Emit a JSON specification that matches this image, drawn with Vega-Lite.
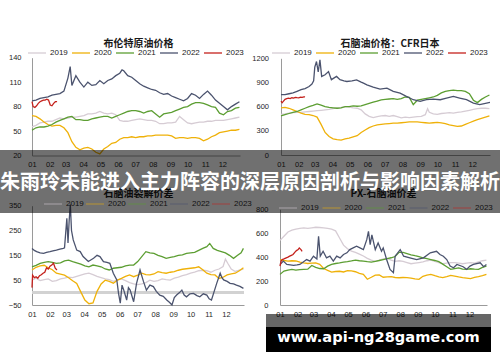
{
"$schema":"https://vega.github.io/schema/vega-lite/v6.json",
"width":500,"height":362,"autosize":{"type":"none"},"padding":0,"background":"white",
"config":{"view":{"stroke":null},
"axis":{"grid":false,"ticks":false,"domainColor":"#9a9a9a","domainWidth":1,"labelFont":"Liberation Sans","labelFontSize":7.5,"labelColor":"#262626","titleFont":"Noto Sans CJK SC","titleFontSize":10,"titleFontWeight":"bold","titleColor":"#1a1a1a"},
"legend":{"title":null,"orient":"none","direction":"horizontal","symbolType":"stroke","symbolSize":324,"symbolStrokeWidth":2,"labelFont":"Liberation Sans","labelFontSize":8,"labelColor":"#222","labelOffset":3,"columnPadding":1,"padding":0}},
"datasets":{
"tl":[
{"d":0,"y":2019,"v":55},{"d":7,"y":2019,"v":57},{"d":14,"y":2019,"v":60},{"d":21,"y":2019,"v":61},{"d":28,"y":2019,"v":62},{"d":35,"y":2019,"v":62},{"d":42,"y":2019,"v":64},{"d":49,"y":2019,"v":66},{"d":56,"y":2019,"v":65},{"d":63,"y":2019,"v":66},{"d":70,"y":2019,"v":67},{"d":77,"y":2019,"v":67},{"d":84,"y":2019,"v":68},{"d":91,"y":2019,"v":69},{"d":98,"y":2019,"v":71},{"d":105,"y":2019,"v":71},{"d":112,"y":2019,"v":72},{"d":119,"y":2019,"v":74},{"d":126,"y":2019,"v":72},{"d":133,"y":2019,"v":71},{"d":140,"y":2019,"v":72},{"d":147,"y":2019,"v":70},{"d":154,"y":2019,"v":63},{"d":161,"y":2019,"v":62},{"d":168,"y":2019,"v":62},{"d":175,"y":2019,"v":63},{"d":182,"y":2019,"v":64},{"d":189,"y":2019,"v":65},{"d":196,"y":2019,"v":64},{"d":203,"y":2019,"v":63},{"d":210,"y":2019,"v":63},{"d":217,"y":2019,"v":62},{"d":224,"y":2019,"v":59},{"d":231,"y":2019,"v":59},{"d":238,"y":2019,"v":60},{"d":245,"y":2019,"v":60},{"d":252,"y":2019,"v":61},{"d":259,"y":2019,"v":68},{"d":266,"y":2019,"v":64},{"d":273,"y":2019,"v":60},{"d":280,"y":2019,"v":59},{"d":287,"y":2019,"v":60},{"d":294,"y":2019,"v":61},{"d":301,"y":2019,"v":61},{"d":308,"y":2019,"v":62},{"d":315,"y":2019,"v":62},{"d":322,"y":2019,"v":63},{"d":329,"y":2019,"v":63},{"d":336,"y":2019,"v":63},{"d":343,"y":2019,"v":64},{"d":350,"y":2019,"v":65},{"d":357,"y":2019,"v":66},{"d":364,"y":2019,"v":67},
{"d":0,"y":2020,"v":69},{"d":7,"y":2020,"v":68},{"d":14,"y":2020,"v":65},{"d":21,"y":2020,"v":61},{"d":28,"y":2020,"v":58},{"d":35,"y":2020,"v":56},{"d":42,"y":2020,"v":57},{"d":49,"y":2020,"v":57},{"d":56,"y":2020,"v":54},{"d":63,"y":2020,"v":48},{"d":70,"y":2020,"v":37},{"d":77,"y":2020,"v":30},{"d":84,"y":2020,"v":27},{"d":91,"y":2020,"v":29},{"d":98,"y":2020,"v":30},{"d":105,"y":2020,"v":28},{"d":112,"y":2020,"v":24},{"d":119,"y":2020,"v":22},{"d":126,"y":2020,"v":28},{"d":133,"y":2020,"v":31},{"d":140,"y":2020,"v":35},{"d":147,"y":2020,"v":36},{"d":154,"y":2020,"v":40},{"d":161,"y":2020,"v":42},{"d":168,"y":2020,"v":42},{"d":175,"y":2020,"v":43},{"d":182,"y":2020,"v":42},{"d":189,"y":2020,"v":43},{"d":196,"y":2020,"v":43},{"d":203,"y":2020,"v":44},{"d":210,"y":2020,"v":44},{"d":217,"y":2020,"v":45},{"d":224,"y":2020,"v":45},{"d":231,"y":2020,"v":45},{"d":238,"y":2020,"v":45},{"d":245,"y":2020,"v":44},{"d":252,"y":2020,"v":41},{"d":259,"y":2020,"v":42},{"d":266,"y":2020,"v":42},{"d":273,"y":2020,"v":41},{"d":280,"y":2020,"v":42},{"d":287,"y":2020,"v":42},{"d":294,"y":2020,"v":41},{"d":301,"y":2020,"v":38},{"d":308,"y":2020,"v":40},{"d":315,"y":2020,"v":43},{"d":322,"y":2020,"v":45},{"d":329,"y":2020,"v":48},{"d":336,"y":2020,"v":49},{"d":343,"y":2020,"v":50},{"d":350,"y":2020,"v":51},{"d":357,"y":2020,"v":51},{"d":364,"y":2020,"v":52},
{"d":0,"y":2021,"v":51},{"d":7,"y":2021,"v":54},{"d":14,"y":2021,"v":55},{"d":21,"y":2021,"v":55},{"d":28,"y":2021,"v":56},{"d":35,"y":2021,"v":58},{"d":42,"y":2021,"v":61},{"d":49,"y":2021,"v":63},{"d":56,"y":2021,"v":65},{"d":63,"y":2021,"v":67},{"d":70,"y":2021,"v":68},{"d":77,"y":2021,"v":64},{"d":84,"y":2021,"v":64},{"d":91,"y":2021,"v":63},{"d":98,"y":2021,"v":63},{"d":105,"y":2021,"v":65},{"d":112,"y":2021,"v":66},{"d":119,"y":2021,"v":67},{"d":126,"y":2021,"v":68},{"d":133,"y":2021,"v":68},{"d":140,"y":2021,"v":66},{"d":147,"y":2021,"v":68},{"d":154,"y":2021,"v":70},{"d":161,"y":2021,"v":72},{"d":168,"y":2021,"v":74},{"d":175,"y":2021,"v":75},{"d":182,"y":2021,"v":75},{"d":189,"y":2021,"v":74},{"d":196,"y":2021,"v":72},{"d":203,"y":2021,"v":74},{"d":210,"y":2021,"v":75},{"d":217,"y":2021,"v":71},{"d":224,"y":2021,"v":67},{"d":231,"y":2021,"v":71},{"d":238,"y":2021,"v":72},{"d":245,"y":2021,"v":73},{"d":252,"y":2021,"v":75},{"d":259,"y":2021,"v":77},{"d":266,"y":2021,"v":79},{"d":273,"y":2021,"v":80},{"d":280,"y":2021,"v":83},{"d":287,"y":2021,"v":85},{"d":294,"y":2021,"v":85},{"d":301,"y":2021,"v":84},{"d":308,"y":2021,"v":82},{"d":315,"y":2021,"v":80},{"d":322,"y":2021,"v":79},{"d":329,"y":2021,"v":72},{"d":336,"y":2021,"v":70},{"d":343,"y":2021,"v":74},{"d":350,"y":2021,"v":75},{"d":357,"y":2021,"v":78},{"d":364,"y":2021,"v":79},
{"d":0,"y":2022,"v":87},{"d":7,"y":2022,"v":88},{"d":14,"y":2022,"v":90},{"d":21,"y":2022,"v":91},{"d":28,"y":2022,"v":92},{"d":35,"y":2022,"v":94},{"d":42,"y":2022,"v":95},{"d":49,"y":2022,"v":96},{"d":56,"y":2022,"v":99},{"d":63,"y":2022,"v":115},{"d":67,"y":2022,"v":129},{"d":70,"y":2022,"v":106},{"d":77,"y":2022,"v":118},{"d":84,"y":2022,"v":110},{"d":91,"y":2022,"v":104},{"d":98,"y":2022,"v":110},{"d":105,"y":2022,"v":106},{"d":112,"y":2022,"v":107},{"d":119,"y":2022,"v":112},{"d":126,"y":2022,"v":108},{"d":133,"y":2022,"v":112},{"d":140,"y":2022,"v":114},{"d":147,"y":2022,"v":118},{"d":154,"y":2022,"v":121},{"d":158,"y":2022,"v":125},{"d":161,"y":2022,"v":124},{"d":168,"y":2022,"v":118},{"d":175,"y":2022,"v":116},{"d":182,"y":2022,"v":112},{"d":189,"y":2022,"v":108},{"d":196,"y":2022,"v":105},{"d":203,"y":2022,"v":103},{"d":210,"y":2022,"v":101},{"d":217,"y":2022,"v":100},{"d":224,"y":2022,"v":97},{"d":231,"y":2022,"v":95},{"d":238,"y":2022,"v":96},{"d":245,"y":2022,"v":93},{"d":252,"y":2022,"v":91},{"d":259,"y":2022,"v":89},{"d":266,"y":2022,"v":87},{"d":273,"y":2022,"v":90},{"d":280,"y":2022,"v":96},{"d":287,"y":2022,"v":94},{"d":294,"y":2022,"v":90},{"d":301,"y":2022,"v":95},{"d":308,"y":2022,"v":99},{"d":315,"y":2022,"v":94},{"d":322,"y":2022,"v":88},{"d":329,"y":2022,"v":84},{"d":336,"y":2022,"v":80},{"d":343,"y":2022,"v":76},{"d":350,"y":2022,"v":80},{"d":357,"y":2022,"v":83},{"d":364,"y":2022,"v":86},
{"d":0,"y":2023,"v":86},{"d":2,"y":2023,"v":80},{"d":5,"y":2023,"v":79},{"d":8,"y":2023,"v":81},{"d":11,"y":2023,"v":84},{"d":14,"y":2023,"v":86},{"d":17,"y":2023,"v":87},{"d":20,"y":2023,"v":88},{"d":23,"y":2023,"v":88},{"d":26,"y":2023,"v":89},{"d":29,"y":2023,"v":88},{"d":32,"y":2023,"v":82},{"d":35,"y":2023,"v":81},{"d":38,"y":2023,"v":84},{"d":41,"y":2023,"v":86},{"d":44,"y":2023,"v":86}
],
"tr":[
{"d":0,"y":2019,"v":505},{"d":7,"y":2019,"v":510},{"d":14,"y":2019,"v":520},{"d":21,"y":2019,"v":525},{"d":28,"y":2019,"v":530},{"d":35,"y":2019,"v":530},{"d":42,"y":2019,"v":535},{"d":49,"y":2019,"v":540},{"d":56,"y":2019,"v":545},{"d":63,"y":2019,"v":550},{"d":70,"y":2019,"v":555},{"d":77,"y":2019,"v":560},{"d":84,"y":2019,"v":565},{"d":91,"y":2019,"v":575},{"d":98,"y":2019,"v":585},{"d":105,"y":2019,"v":590},{"d":112,"y":2019,"v":600},{"d":119,"y":2019,"v":595},{"d":126,"y":2019,"v":585},{"d":133,"y":2019,"v":580},{"d":140,"y":2019,"v":560},{"d":147,"y":2019,"v":510},{"d":154,"y":2019,"v":480},{"d":161,"y":2019,"v":465},{"d":168,"y":2019,"v":475},{"d":175,"y":2019,"v":485},{"d":182,"y":2019,"v":490},{"d":189,"y":2019,"v":480},{"d":196,"y":2019,"v":490},{"d":203,"y":2019,"v":475},{"d":210,"y":2019,"v":460},{"d":217,"y":2019,"v":470},{"d":224,"y":2019,"v":465},{"d":231,"y":2019,"v":470},{"d":238,"y":2019,"v":475},{"d":245,"y":2019,"v":480},{"d":252,"y":2019,"v":500},{"d":256,"y":2019,"v":575},{"d":259,"y":2019,"v":530},{"d":266,"y":2019,"v":510},{"d":273,"y":2019,"v":505},{"d":280,"y":2019,"v":515},{"d":287,"y":2019,"v":520},{"d":294,"y":2019,"v":525},{"d":301,"y":2019,"v":520},{"d":308,"y":2019,"v":530},{"d":315,"y":2019,"v":535},{"d":322,"y":2019,"v":545},{"d":329,"y":2019,"v":555},{"d":336,"y":2019,"v":565},{"d":343,"y":2019,"v":575},{"d":350,"y":2019,"v":580},{"d":357,"y":2019,"v":580},{"d":364,"y":2019,"v":575},
{"d":0,"y":2020,"v":585},{"d":7,"y":2020,"v":590},{"d":14,"y":2020,"v":580},{"d":21,"y":2020,"v":560},{"d":28,"y":2020,"v":540},{"d":35,"y":2020,"v":520},{"d":42,"y":2020,"v":505},{"d":49,"y":2020,"v":500},{"d":56,"y":2020,"v":490},{"d":63,"y":2020,"v":470},{"d":70,"y":2020,"v":380},{"d":77,"y":2020,"v":280},{"d":84,"y":2020,"v":230},{"d":91,"y":2020,"v":200},{"d":98,"y":2020,"v":190},{"d":105,"y":2020,"v":185},{"d":112,"y":2020,"v":200},{"d":119,"y":2020,"v":210},{"d":126,"y":2020,"v":225},{"d":133,"y":2020,"v":240},{"d":140,"y":2020,"v":280},{"d":147,"y":2020,"v":310},{"d":154,"y":2020,"v":340},{"d":161,"y":2020,"v":360},{"d":168,"y":2020,"v":375},{"d":175,"y":2020,"v":380},{"d":182,"y":2020,"v":385},{"d":189,"y":2020,"v":390},{"d":196,"y":2020,"v":395},{"d":203,"y":2020,"v":395},{"d":210,"y":2020,"v":400},{"d":217,"y":2020,"v":405},{"d":224,"y":2020,"v":410},{"d":231,"y":2020,"v":412},{"d":238,"y":2020,"v":410},{"d":245,"y":2020,"v":405},{"d":252,"y":2020,"v":400},{"d":259,"y":2020,"v":395},{"d":266,"y":2020,"v":400},{"d":273,"y":2020,"v":405},{"d":280,"y":2020,"v":398},{"d":287,"y":2020,"v":390},{"d":294,"y":2020,"v":375},{"d":301,"y":2020,"v":365},{"d":308,"y":2020,"v":355},{"d":315,"y":2020,"v":360},{"d":322,"y":2020,"v":380},{"d":329,"y":2020,"v":400},{"d":336,"y":2020,"v":420},{"d":343,"y":2020,"v":440},{"d":350,"y":2020,"v":455},{"d":357,"y":2020,"v":470},{"d":364,"y":2020,"v":485},
{"d":0,"y":2021,"v":485},{"d":7,"y":2021,"v":500},{"d":14,"y":2021,"v":515},{"d":21,"y":2021,"v":530},{"d":28,"y":2021,"v":540},{"d":35,"y":2021,"v":560},{"d":42,"y":2021,"v":580},{"d":49,"y":2021,"v":600},{"d":56,"y":2021,"v":615},{"d":63,"y":2021,"v":635},{"d":70,"y":2021,"v":620},{"d":77,"y":2021,"v":600},{"d":84,"y":2021,"v":590},{"d":91,"y":2021,"v":585},{"d":98,"y":2021,"v":580},{"d":105,"y":2021,"v":585},{"d":112,"y":2021,"v":600},{"d":119,"y":2021,"v":600},{"d":126,"y":2021,"v":610},{"d":133,"y":2021,"v":605},{"d":140,"y":2021,"v":610},{"d":147,"y":2021,"v":625},{"d":154,"y":2021,"v":640},{"d":161,"y":2021,"v":655},{"d":168,"y":2021,"v":670},{"d":175,"y":2021,"v":685},{"d":182,"y":2021,"v":690},{"d":189,"y":2021,"v":695},{"d":196,"y":2021,"v":700},{"d":203,"y":2021,"v":690},{"d":210,"y":2021,"v":700},{"d":217,"y":2021,"v":720},{"d":224,"y":2021,"v":715},{"d":231,"y":2021,"v":625},{"d":238,"y":2021,"v":680},{"d":245,"y":2021,"v":690},{"d":252,"y":2021,"v":700},{"d":259,"y":2021,"v":710},{"d":266,"y":2021,"v":720},{"d":273,"y":2021,"v":740},{"d":280,"y":2021,"v":770},{"d":287,"y":2021,"v":790},{"d":294,"y":2021,"v":800},{"d":301,"y":2021,"v":805},{"d":308,"y":2021,"v":800},{"d":315,"y":2021,"v":800},{"d":322,"y":2021,"v":790},{"d":329,"y":2021,"v":760},{"d":336,"y":2021,"v":680},{"d":343,"y":2021,"v":650},{"d":350,"y":2021,"v":690},{"d":357,"y":2021,"v":720},{"d":364,"y":2021,"v":745},
{"d":0,"y":2022,"v":748},{"d":7,"y":2022,"v":750},{"d":14,"y":2022,"v":760},{"d":21,"y":2022,"v":770},{"d":28,"y":2022,"v":790},{"d":35,"y":2022,"v":810},{"d":42,"y":2022,"v":825},{"d":49,"y":2022,"v":850},{"d":54,"y":2022,"v":880},{"d":57,"y":2022,"v":920},{"d":59,"y":2022,"v":1090},{"d":62,"y":2022,"v":1160},{"d":65,"y":2022,"v":1030},{"d":68,"y":2022,"v":1180},{"d":71,"y":2022,"v":975},{"d":77,"y":2022,"v":995},{"d":83,"y":2022,"v":1035},{"d":88,"y":2022,"v":935},{"d":97,"y":2022,"v":975},{"d":103,"y":2022,"v":935},{"d":110,"y":2022,"v":920},{"d":115,"y":2022,"v":912},{"d":124,"y":2022,"v":920},{"d":132,"y":2022,"v":933},{"d":140,"y":2022,"v":905},{"d":144,"y":2022,"v":892},{"d":150,"y":2022,"v":871},{"d":161,"y":2022,"v":842},{"d":173,"y":2022,"v":818},{"d":185,"y":2022,"v":830},{"d":196,"y":2022,"v":789},{"d":208,"y":2022,"v":768},{"d":219,"y":2022,"v":727},{"d":231,"y":2022,"v":686},{"d":243,"y":2022,"v":666},{"d":254,"y":2022,"v":686},{"d":266,"y":2022,"v":694},{"d":278,"y":2022,"v":686},{"d":289,"y":2022,"v":707},{"d":301,"y":2022,"v":727},{"d":312,"y":2022,"v":707},{"d":324,"y":2022,"v":686},{"d":336,"y":2022,"v":645},{"d":347,"y":2022,"v":625},{"d":359,"y":2022,"v":645},{"d":365,"y":2022,"v":653},
{"d":0,"y":2023,"v":670},{"d":2,"y":2023,"v":650},{"d":4,"y":2023,"v":665},{"d":7,"y":2023,"v":690},{"d":10,"y":2023,"v":700},{"d":13,"y":2023,"v":705},{"d":16,"y":2023,"v":700},{"d":19,"y":2023,"v":710},{"d":22,"y":2023,"v":705},{"d":25,"y":2023,"v":715},{"d":28,"y":2023,"v":712},{"d":31,"y":2023,"v":710},{"d":34,"y":2023,"v":718},{"d":37,"y":2023,"v":715},{"d":40,"y":2023,"v":722},{"d":42,"y":2023,"v":720}
],
"bl":[
{"d":0,"y":2019,"v":50},{"d":7,"y":2019,"v":58},{"d":14,"y":2019,"v":48},{"d":21,"y":2019,"v":52},{"d":28,"y":2019,"v":55},{"d":35,"y":2019,"v":45},{"d":42,"y":2019,"v":48},{"d":49,"y":2019,"v":55},{"d":56,"y":2019,"v":58},{"d":63,"y":2019,"v":62},{"d":70,"y":2019,"v":60},{"d":77,"y":2019,"v":65},{"d":84,"y":2019,"v":70},{"d":91,"y":2019,"v":75},{"d":98,"y":2019,"v":78},{"d":105,"y":2019,"v":72},{"d":112,"y":2019,"v":65},{"d":119,"y":2019,"v":60},{"d":126,"y":2019,"v":55},{"d":133,"y":2019,"v":52},{"d":140,"y":2019,"v":45},{"d":147,"y":2019,"v":50},{"d":154,"y":2019,"v":55},{"d":161,"y":2019,"v":48},{"d":168,"y":2019,"v":40},{"d":175,"y":2019,"v":35},{"d":182,"y":2019,"v":32},{"d":189,"y":2019,"v":35},{"d":196,"y":2019,"v":40},{"d":203,"y":2019,"v":50},{"d":210,"y":2019,"v":45},{"d":217,"y":2019,"v":48},{"d":224,"y":2019,"v":55},{"d":231,"y":2019,"v":52},{"d":238,"y":2019,"v":50},{"d":245,"y":2019,"v":58},{"d":252,"y":2019,"v":62},{"d":259,"y":2019,"v":68},{"d":266,"y":2019,"v":72},{"d":273,"y":2019,"v":78},{"d":280,"y":2019,"v":82},{"d":287,"y":2019,"v":88},{"d":294,"y":2019,"v":90},{"d":301,"y":2019,"v":88},{"d":308,"y":2019,"v":82},{"d":315,"y":2019,"v":90},{"d":322,"y":2019,"v":95},{"d":329,"y":2019,"v":105},{"d":333,"y":2019,"v":135},{"d":337,"y":2019,"v":118},{"d":343,"y":2019,"v":95},{"d":350,"y":2019,"v":85},{"d":357,"y":2019,"v":90},{"d":364,"y":2019,"v":95},
{"d":0,"y":2020,"v":91},{"d":7,"y":2020,"v":102},{"d":14,"y":2020,"v":108},{"d":21,"y":2020,"v":110},{"d":28,"y":2020,"v":100},{"d":35,"y":2020,"v":92},{"d":42,"y":2020,"v":78},{"d":49,"y":2020,"v":74},{"d":56,"y":2020,"v":70},{"d":63,"y":2020,"v":60},{"d":70,"y":2020,"v":48},{"d":77,"y":2020,"v":37},{"d":84,"y":2020,"v":3},{"d":91,"y":2020,"v":-30},{"d":98,"y":2020,"v":-45},{"d":105,"y":2020,"v":-42},{"d":112,"y":2020,"v":5},{"d":119,"y":2020,"v":35},{"d":126,"y":2020,"v":50},{"d":133,"y":2020,"v":45},{"d":140,"y":2020,"v":38},{"d":147,"y":2020,"v":50},{"d":154,"y":2020,"v":57},{"d":161,"y":2020,"v":65},{"d":168,"y":2020,"v":71},{"d":175,"y":2020,"v":64},{"d":182,"y":2020,"v":70},{"d":189,"y":2020,"v":78},{"d":196,"y":2020,"v":72},{"d":203,"y":2020,"v":71},{"d":210,"y":2020,"v":75},{"d":217,"y":2020,"v":84},{"d":224,"y":2020,"v":80},{"d":231,"y":2020,"v":78},{"d":238,"y":2020,"v":82},{"d":245,"y":2020,"v":84},{"d":252,"y":2020,"v":90},{"d":259,"y":2020,"v":94},{"d":266,"y":2020,"v":96},{"d":273,"y":2020,"v":98},{"d":280,"y":2020,"v":100},{"d":287,"y":2020,"v":104},{"d":294,"y":2020,"v":92},{"d":301,"y":2020,"v":78},{"d":308,"y":2020,"v":72},{"d":315,"y":2020,"v":71},{"d":322,"y":2020,"v":57},{"d":329,"y":2020,"v":62},{"d":336,"y":2020,"v":71},{"d":343,"y":2020,"v":75},{"d":350,"y":2020,"v":78},{"d":357,"y":2020,"v":88},{"d":364,"y":2020,"v":100},
{"d":0,"y":2021,"v":104},{"d":7,"y":2021,"v":110},{"d":14,"y":2021,"v":118},{"d":21,"y":2021,"v":122},{"d":28,"y":2021,"v":125},{"d":35,"y":2021,"v":122},{"d":42,"y":2021,"v":118},{"d":49,"y":2021,"v":120},{"d":56,"y":2021,"v":128},{"d":63,"y":2021,"v":131},{"d":70,"y":2021,"v":125},{"d":77,"y":2021,"v":120},{"d":84,"y":2021,"v":115},{"d":91,"y":2021,"v":108},{"d":98,"y":2021,"v":104},{"d":105,"y":2021,"v":111},{"d":112,"y":2021,"v":108},{"d":119,"y":2021,"v":104},{"d":126,"y":2021,"v":95},{"d":133,"y":2021,"v":91},{"d":140,"y":2021,"v":98},{"d":147,"y":2021,"v":100},{"d":154,"y":2021,"v":102},{"d":161,"y":2021,"v":108},{"d":168,"y":2021,"v":111},{"d":175,"y":2021,"v":111},{"d":182,"y":2021,"v":125},{"d":189,"y":2021,"v":145},{"d":196,"y":2021,"v":165},{"d":203,"y":2021,"v":160},{"d":210,"y":2021,"v":158},{"d":217,"y":2021,"v":150},{"d":224,"y":2021,"v":145},{"d":231,"y":2021,"v":138},{"d":238,"y":2021,"v":142},{"d":245,"y":2021,"v":145},{"d":252,"y":2021,"v":150},{"d":259,"y":2021,"v":152},{"d":266,"y":2021,"v":158},{"d":273,"y":2021,"v":160},{"d":280,"y":2021,"v":162},{"d":287,"y":2021,"v":170},{"d":294,"y":2021,"v":178},{"d":301,"y":2021,"v":185},{"d":306,"y":2021,"v":198},{"d":312,"y":2021,"v":178},{"d":319,"y":2021,"v":170},{"d":326,"y":2021,"v":165},{"d":333,"y":2021,"v":160},{"d":340,"y":2021,"v":150},{"d":347,"y":2021,"v":138},{"d":354,"y":2021,"v":150},{"d":360,"y":2021,"v":160},{"d":364,"y":2021,"v":178},
{"d":0,"y":2022,"v":178},{"d":4,"y":2022,"v":170},{"d":8,"y":2022,"v":165},{"d":14,"y":2022,"v":160},{"d":20,"y":2022,"v":158},{"d":25,"y":2022,"v":162},{"d":31,"y":2022,"v":165},{"d":36,"y":2022,"v":168},{"d":42,"y":2022,"v":171},{"d":48,"y":2022,"v":175},{"d":54,"y":2022,"v":178},{"d":56,"y":2022,"v":180},{"d":58,"y":2022,"v":240},{"d":60,"y":2022,"v":299},{"d":62,"y":2022,"v":200},{"d":64,"y":2022,"v":290},{"d":66,"y":2022,"v":355},{"d":68,"y":2022,"v":250},{"d":71,"y":2022,"v":212},{"d":77,"y":2022,"v":171},{"d":83,"y":2022,"v":165},{"d":88,"y":2022,"v":145},{"d":97,"y":2022,"v":125},{"d":106,"y":2022,"v":138},{"d":112,"y":2022,"v":150},{"d":117,"y":2022,"v":145},{"d":123,"y":2022,"v":125},{"d":129,"y":2022,"v":122},{"d":134,"y":2022,"v":118},{"d":140,"y":2022,"v":78},{"d":146,"y":2022,"v":51},{"d":149,"y":2022,"v":-3},{"d":152,"y":2022,"v":-43},{"d":155,"y":2022,"v":30},{"d":158,"y":2022,"v":10},{"d":163,"y":2022,"v":-30},{"d":166,"y":2022,"v":20},{"d":169,"y":2022,"v":10},{"d":175,"y":2022,"v":-37},{"d":180,"y":2022,"v":37},{"d":186,"y":2022,"v":91},{"d":192,"y":2022,"v":44},{"d":197,"y":2022,"v":10},{"d":203,"y":2022,"v":30},{"d":209,"y":2022,"v":24},{"d":214,"y":2022,"v":5},{"d":220,"y":2022,"v":-10},{"d":226,"y":2022,"v":-15},{"d":232,"y":2022,"v":-30},{"d":237,"y":2022,"v":-40},{"d":241,"y":2022,"v":-50},{"d":245,"y":2022,"v":-20},{"d":249,"y":2022,"v":-10},{"d":254,"y":2022,"v":0},{"d":258,"y":2022,"v":10},{"d":262,"y":2022,"v":-10},{"d":266,"y":2022,"v":-17},{"d":272,"y":2022,"v":-5},{"d":278,"y":2022,"v":-3},{"d":284,"y":2022,"v":-12},{"d":289,"y":2022,"v":-17},{"d":295,"y":2022,"v":-5},{"d":301,"y":2022,"v":-10},{"d":305,"y":2022,"v":-25},{"d":309,"y":2022,"v":-30},{"d":313,"y":2022,"v":0},{"d":318,"y":2022,"v":37},{"d":324,"y":2022,"v":78},{"d":327,"y":2022,"v":60},{"d":330,"y":2022,"v":51},{"d":336,"y":2022,"v":45},{"d":341,"y":2022,"v":37},{"d":347,"y":2022,"v":35},{"d":352,"y":2022,"v":30},{"d":358,"y":2022,"v":25},{"d":364,"y":2022,"v":17},
{"d":0,"y":2023,"v":20},{"d":1,"y":2023,"v":70},{"d":4,"y":2023,"v":60},{"d":7,"y":2023,"v":64},{"d":10,"y":2023,"v":58},{"d":13,"y":2023,"v":68},{"d":16,"y":2023,"v":72},{"d":19,"y":2023,"v":78},{"d":22,"y":2023,"v":82},{"d":25,"y":2023,"v":100},{"d":28,"y":2023,"v":95},{"d":31,"y":2023,"v":106},{"d":34,"y":2023,"v":111},{"d":37,"y":2023,"v":118},{"d":40,"y":2023,"v":98},{"d":43,"y":2023,"v":91}
],
"br":[
{"d":0,"y":2019,"v":540},{"d":7,"y":2019,"v":575},{"d":14,"y":2019,"v":610},{"d":21,"y":2019,"v":625},{"d":28,"y":2019,"v":635},{"d":35,"y":2019,"v":640},{"d":42,"y":2019,"v":645},{"d":49,"y":2019,"v":640},{"d":56,"y":2019,"v":645},{"d":63,"y":2019,"v":650},{"d":70,"y":2019,"v":648},{"d":77,"y":2019,"v":645},{"d":84,"y":2019,"v":640},{"d":91,"y":2019,"v":635},{"d":98,"y":2019,"v":620},{"d":105,"y":2019,"v":560},{"d":112,"y":2019,"v":500},{"d":119,"y":2019,"v":470},{"d":126,"y":2019,"v":450},{"d":133,"y":2019,"v":440},{"d":140,"y":2019,"v":425},{"d":147,"y":2019,"v":410},{"d":154,"y":2019,"v":390},{"d":161,"y":2019,"v":375},{"d":168,"y":2019,"v":365},{"d":175,"y":2019,"v":375},{"d":182,"y":2019,"v":385},{"d":189,"y":2019,"v":390},{"d":196,"y":2019,"v":375},{"d":203,"y":2019,"v":365},{"d":210,"y":2019,"v":370},{"d":217,"y":2019,"v":365},{"d":224,"y":2019,"v":355},{"d":231,"y":2019,"v":345},{"d":238,"y":2019,"v":350},{"d":245,"y":2019,"v":355},{"d":252,"y":2019,"v":360},{"d":259,"y":2019,"v":370},{"d":266,"y":2019,"v":375},{"d":273,"y":2019,"v":365},{"d":280,"y":2019,"v":355},{"d":287,"y":2019,"v":345},{"d":294,"y":2019,"v":350},{"d":301,"y":2019,"v":355},{"d":308,"y":2019,"v":355},{"d":315,"y":2019,"v":350},{"d":322,"y":2019,"v":345},{"d":329,"y":2019,"v":350},{"d":336,"y":2019,"v":355},{"d":343,"y":2019,"v":350},{"d":350,"y":2019,"v":360},{"d":357,"y":2019,"v":370},{"d":364,"y":2019,"v":375},
{"d":0,"y":2020,"v":380},{"d":7,"y":2020,"v":372},{"d":14,"y":2020,"v":367},{"d":21,"y":2020,"v":370},{"d":28,"y":2020,"v":368},{"d":35,"y":2020,"v":358},{"d":42,"y":2020,"v":352},{"d":49,"y":2020,"v":347},{"d":56,"y":2020,"v":350},{"d":63,"y":2020,"v":352},{"d":70,"y":2020,"v":340},{"d":77,"y":2020,"v":305},{"d":84,"y":2020,"v":290},{"d":91,"y":2020,"v":275},{"d":98,"y":2020,"v":280},{"d":105,"y":2020,"v":282},{"d":112,"y":2020,"v":276},{"d":119,"y":2020,"v":288},{"d":126,"y":2020,"v":285},{"d":133,"y":2020,"v":278},{"d":140,"y":2020,"v":265},{"d":147,"y":2020,"v":256},{"d":154,"y":2020,"v":215},{"d":161,"y":2020,"v":232},{"d":168,"y":2020,"v":250},{"d":175,"y":2020,"v":252},{"d":182,"y":2020,"v":232},{"d":189,"y":2020,"v":235},{"d":196,"y":2020,"v":237},{"d":203,"y":2020,"v":230},{"d":210,"y":2020,"v":228},{"d":217,"y":2020,"v":230},{"d":224,"y":2020,"v":229},{"d":231,"y":2020,"v":225},{"d":238,"y":2020,"v":218},{"d":245,"y":2020,"v":215},{"d":252,"y":2020,"v":240},{"d":259,"y":2020,"v":250},{"d":266,"y":2020,"v":256},{"d":273,"y":2020,"v":245},{"d":280,"y":2020,"v":235},{"d":287,"y":2020,"v":229},{"d":294,"y":2020,"v":238},{"d":301,"y":2020,"v":248},{"d":308,"y":2020,"v":242},{"d":315,"y":2020,"v":235},{"d":322,"y":2020,"v":229},{"d":329,"y":2020,"v":225},{"d":336,"y":2020,"v":221},{"d":343,"y":2020,"v":230},{"d":350,"y":2020,"v":237},{"d":357,"y":2020,"v":245},{"d":364,"y":2020,"v":256},
{"d":0,"y":2021,"v":256},{"d":7,"y":2021,"v":284},{"d":14,"y":2021,"v":292},{"d":21,"y":2021,"v":298},{"d":28,"y":2021,"v":292},{"d":35,"y":2021,"v":295},{"d":42,"y":2021,"v":298},{"d":49,"y":2021,"v":300},{"d":56,"y":2021,"v":330},{"d":63,"y":2021,"v":315},{"d":70,"y":2021,"v":305},{"d":77,"y":2021,"v":303},{"d":84,"y":2021,"v":325},{"d":91,"y":2021,"v":340},{"d":98,"y":2021,"v":347},{"d":105,"y":2021,"v":352},{"d":112,"y":2021,"v":358},{"d":119,"y":2021,"v":362},{"d":126,"y":2021,"v":368},{"d":133,"y":2021,"v":375},{"d":140,"y":2021,"v":370},{"d":147,"y":2021,"v":367},{"d":154,"y":2021,"v":362},{"d":161,"y":2021,"v":358},{"d":168,"y":2021,"v":365},{"d":175,"y":2021,"v":372},{"d":182,"y":2021,"v":380},{"d":189,"y":2021,"v":388},{"d":196,"y":2021,"v":395},{"d":203,"y":2021,"v":405},{"d":210,"y":2021,"v":440},{"d":217,"y":2021,"v":440},{"d":224,"y":2021,"v":430},{"d":231,"y":2021,"v":420},{"d":238,"y":2021,"v":412},{"d":245,"y":2021,"v":405},{"d":252,"y":2021,"v":395},{"d":259,"y":2021,"v":388},{"d":266,"y":2021,"v":380},{"d":273,"y":2021,"v":372},{"d":280,"y":2021,"v":362},{"d":287,"y":2021,"v":342},{"d":294,"y":2021,"v":320},{"d":301,"y":2021,"v":298},{"d":308,"y":2021,"v":305},{"d":315,"y":2021,"v":311},{"d":322,"y":2021,"v":300},{"d":329,"y":2021,"v":298},{"d":336,"y":2021,"v":303},{"d":343,"y":2021,"v":300},{"d":350,"y":2021,"v":298},{"d":357,"y":2021,"v":315},{"d":364,"y":2021,"v":325},
{"d":0,"y":2022,"v":339},{"d":6,"y":2022,"v":367},{"d":12,"y":2022,"v":339},{"d":18,"y":2022,"v":335},{"d":24,"y":2022,"v":331},{"d":30,"y":2022,"v":335},{"d":35,"y":2022,"v":339},{"d":41,"y":2022,"v":360},{"d":47,"y":2022,"v":380},{"d":53,"y":2022,"v":367},{"d":59,"y":2022,"v":408},{"d":65,"y":2022,"v":385},{"d":68,"y":2022,"v":574},{"d":71,"y":2022,"v":408},{"d":76,"y":2022,"v":449},{"d":82,"y":2022,"v":394},{"d":88,"y":2022,"v":408},{"d":94,"y":2022,"v":367},{"d":100,"y":2022,"v":408},{"d":106,"y":2022,"v":394},{"d":112,"y":2022,"v":422},{"d":118,"y":2022,"v":436},{"d":123,"y":2022,"v":463},{"d":129,"y":2022,"v":477},{"d":135,"y":2022,"v":491},{"d":141,"y":2022,"v":477},{"d":147,"y":2022,"v":463},{"d":153,"y":2022,"v":546},{"d":156,"y":2022,"v":615},{"d":159,"y":2022,"v":504},{"d":162,"y":2022,"v":587},{"d":168,"y":2022,"v":463},{"d":173,"y":2022,"v":518},{"d":179,"y":2022,"v":449},{"d":182,"y":2022,"v":477},{"d":188,"y":2022,"v":380},{"d":194,"y":2022,"v":298},{"d":200,"y":2022,"v":270},{"d":203,"y":2022,"v":408},{"d":212,"y":2022,"v":463},{"d":218,"y":2022,"v":408},{"d":229,"y":2022,"v":394},{"d":241,"y":2022,"v":380},{"d":253,"y":2022,"v":394},{"d":265,"y":2022,"v":436},{"d":276,"y":2022,"v":449},{"d":282,"y":2022,"v":422},{"d":288,"y":2022,"v":408},{"d":294,"y":2022,"v":380},{"d":300,"y":2022,"v":325},{"d":306,"y":2022,"v":311},{"d":312,"y":2022,"v":339},{"d":323,"y":2022,"v":320},{"d":329,"y":2022,"v":298},{"d":335,"y":2022,"v":325},{"d":341,"y":2022,"v":339},{"d":353,"y":2022,"v":353},{"d":359,"y":2022,"v":320},{"d":364,"y":2022,"v":339},
{"d":0,"y":2023,"v":325},{"d":2,"y":2023,"v":367},{"d":4,"y":2023,"v":380},{"d":7,"y":2023,"v":385},{"d":11,"y":2023,"v":394},{"d":14,"y":2023,"v":400},{"d":17,"y":2023,"v":408},{"d":20,"y":2023,"v":415},{"d":23,"y":2023,"v":422},{"d":26,"y":2023,"v":440},{"d":29,"y":2023,"v":455},{"d":32,"y":2023,"v":463},{"d":34,"y":2023,"v":477},{"d":37,"y":2023,"v":463},{"d":39,"y":2023,"v":449}
]},
"layer":[
{"data":{"name":"tl"},"mark":{"type":"line"},
"encoding":{
"x":{"field":"d","type":"quantitative","scale":{"domain":[0,365],"range":[32,240],"nice":false,"zero":false},"axis":{"orient":"bottom","offset":-206.5,"values":[0,31,59,90,120,151,181,212,243,273,304,334],"labelExpr":"timeFormat(datetime(2021,0,1+datum.value),'%m')","labelFlush":false,"labelPadding":5,"title":null}},
"y":{"field":"v","type":"quantitative","scale":{"domain":[20,140],"range":[155.5,57.7],"nice":false,"zero":false},"axis":{"orient":"left","offset":-32,"values":[20,50,80,110,140],"format":"d","labelPadding":11,"title":"布伦特原油价格","titleAngle":0,"titleX":106,"titleY":43,"titleAlign":"center","titleBaseline":"middle"}},
"color":{"field":"y","type":"nominal","scale":{"domain":[2019,2020,2021,2022,2023],"range":["#d6ccd4","#efb109","#5c9e32","#4b536e","#c4211c"]},"legend":{"legendX":27,"legendY":43}},
"strokeWidth":{"field":"y","type":"ordinal","scale":{"domain":[2019,2020,2021,2022,2023],"range":[1.3,1.3,1.3,1.3,2.4]},"legend":null}}},
{"data":{"name":"tr"},"mark":{"type":"line"},
"encoding":{
"x":{"field":"d","type":"quantitative","scale":{"domain":[0,365],"range":[281,490],"nice":false,"zero":false},"axis":{"orient":"bottom","offset":-207,"values":[0,31,59,90,120,151,181,212,243,273,304,334],"labelExpr":"timeFormat(datetime(2021,0,1+datum.value),'%m')","labelFlush":false,"labelPadding":5,"title":null}},
"y":{"field":"v","type":"quantitative","scale":{"domain":[0,1200],"range":[155,58.3],"nice":false,"zero":false},"axis":{"orient":"left","offset":-281,"values":[0,300,600,900,1200],"format":"d","labelPadding":12.5,"title":"石脑油价格：CFR日本","titleAngle":0,"titleX":108.5,"titleY":43,"titleAlign":"center","titleBaseline":"middle"}},
"color":{"field":"y","type":"nominal","scale":{"domain":[2019,2020,2021,2022,2023],"range":["#d6ccd4","#efb109","#5c9e32","#4b536e","#c4211c"]},"legend":{"legendX":271,"legendY":43}},
"strokeWidth":{"field":"y","type":"ordinal","scale":{"domain":[2019,2020,2021,2022,2023],"range":[1.3,1.3,1.3,1.3,2.4]},"legend":null}}},
{"data":{"name":"bl"},
"layer":[
{"mark":{"type":"rule","color":"#d2d2d2","strokeWidth":2.5},
"encoding":{"x":{"datum":0,"type":"quantitative","scale":{"domain":[0,365],"range":[32,244],"nice":false,"zero":false}},"x2":{"datum":365},"y":{"datum":0,"type":"quantitative","scale":{"domain":[-50,350],"range":[305,205.7],"nice":false,"zero":false}}}},
{"mark":{"type":"line"},
"encoding":{
"x":{"field":"d","type":"quantitative","scale":{"domain":[0,365],"range":[32,244],"nice":false,"zero":false},"axis":{"orient":"bottom","offset":-57,"values":[0,31,59,90,120,151,181,212,243,273,304,334],"labelExpr":"timeFormat(datetime(2021,0,1+datum.value),'%m')","labelFlush":false,"labelPadding":5,"title":null}},
"y":{"field":"v","type":"quantitative","scale":{"domain":[-50,350],"range":[305,205.7],"nice":false,"zero":false},"axis":{"orient":"left","offset":-32,"values":[-50,50,150,250,350],"format":"d","labelPadding":11,"title":"石脑油裂解价差","titleAngle":0,"titleX":106,"titleY":193,"titleAlign":"center","titleBaseline":"middle"}},
"color":{"field":"y","type":"nominal","scale":{"domain":[2019,2020,2021,2022,2023],"range":["#d6ccd4","#efb109","#5c9e32","#4b536e","#c4211c"]},"legend":{"legendX":43,"legendY":194,"columnPadding":-1,"symbolOpacity":0.45,"labelColor":"#111"}},
"strokeWidth":{"field":"y","type":"ordinal","scale":{"domain":[2019,2020,2021,2022,2023],"range":[1.3,1.3,1.3,1.3,2.4]},"legend":null}}}
]},
{"data":{"name":"br"},"mark":{"type":"line"},
"encoding":{
"x":{"field":"d","type":"quantitative","scale":{"domain":[0,365],"range":[280,487],"nice":false,"zero":false},"axis":{"orient":"bottom","offset":-57,"values":[0,31,59,90,120,151,181,212,243,273,304,334],"labelExpr":"timeFormat(datetime(2021,0,1+datum.value),'%m')","labelFlush":false,"labelPadding":5,"title":null}},
"y":{"field":"v","type":"quantitative","scale":{"domain":[0,800],"range":[305,209.3],"nice":false,"zero":false},"axis":{"orient":"left","offset":-280,"values":[0,200,400,600,800],"format":"d","labelPadding":12,"title":"PX-石脑油价差","titleAngle":0,"titleX":103,"titleY":193,"titleAlign":"center","titleBaseline":"middle"}},
"color":{"field":"y","type":"nominal","scale":{"domain":[2019,2020,2021,2022,2023],"range":["#d6ccd4","#efb109","#5c9e32","#4b536e","#c4211c"]},"legend":{"legendX":278,"legendY":198,"columnPadding":0.5,"symbolOpacity":0.45,"labelColor":"#111"}},
"strokeWidth":{"field":"y","type":"ordinal","scale":{"domain":[2019,2020,2021,2022,2023],"range":[1.3,1.3,1.3,1.3,2.4]},"legend":null}}},
{"data":{"values":[{"k":"banner","t":"朱雨玲未能进入主力阵容的深层原因剖析与影响因素解析"}]},
"encoding":{"y":{"field":"k","type":"nominal","scale":{"type":"band","range":[150,213],"paddingInner":0,"paddingOuter":0},"axis":null}},
"layer":[
{"mark":{"type":"rect","fill":"#000","opacity":0.56}},
{"mark":{"type":"text","font":"Noto Sans CJK SC","fontSize":20,"fontWeight":"bold","fill":"#ffffff","align":"center","baseline":"middle","dy":1.5},"encoding":{"text":{"field":"t"}}}
]},
{"data":{"values":[{"k":"site","t":"www.api-ng28game.com"}]},
"encoding":{"x":{"field":"k","type":"nominal","scale":{"type":"band","range":[266,491],"paddingInner":0,"paddingOuter":0},"axis":null}},
"layer":[
{"mark":{"type":"rect","fill":"#000","opacity":0.6},"encoding":{"y":{"field":"k","type":"nominal","scale":{"type":"band","range":[314,327],"paddingInner":0,"paddingOuter":0},"axis":null}}},
{"encoding":{"y":{"field":"k","type":"nominal","scale":{"type":"band","range":[327,352],"paddingInner":0,"paddingOuter":0},"axis":null}},
"layer":[
{"mark":{"type":"rect","fill":"#000"}},
{"mark":{"type":"text","font":"DejaVu Sans","fontSize":14.6,"fontWeight":"bold","fill":"#ffffff","align":"center","baseline":"middle","dy":-2},"encoding":{"text":{"field":"t"}}}
]}
],
"resolve":{"scale":{"y":"independent"}}}
],
"resolve":{"scale":{"x":"independent","y":"independent","color":"independent","strokeWidth":"independent"},"axis":{"x":"independent","y":"independent"},"legend":{"color":"independent"}}
}
